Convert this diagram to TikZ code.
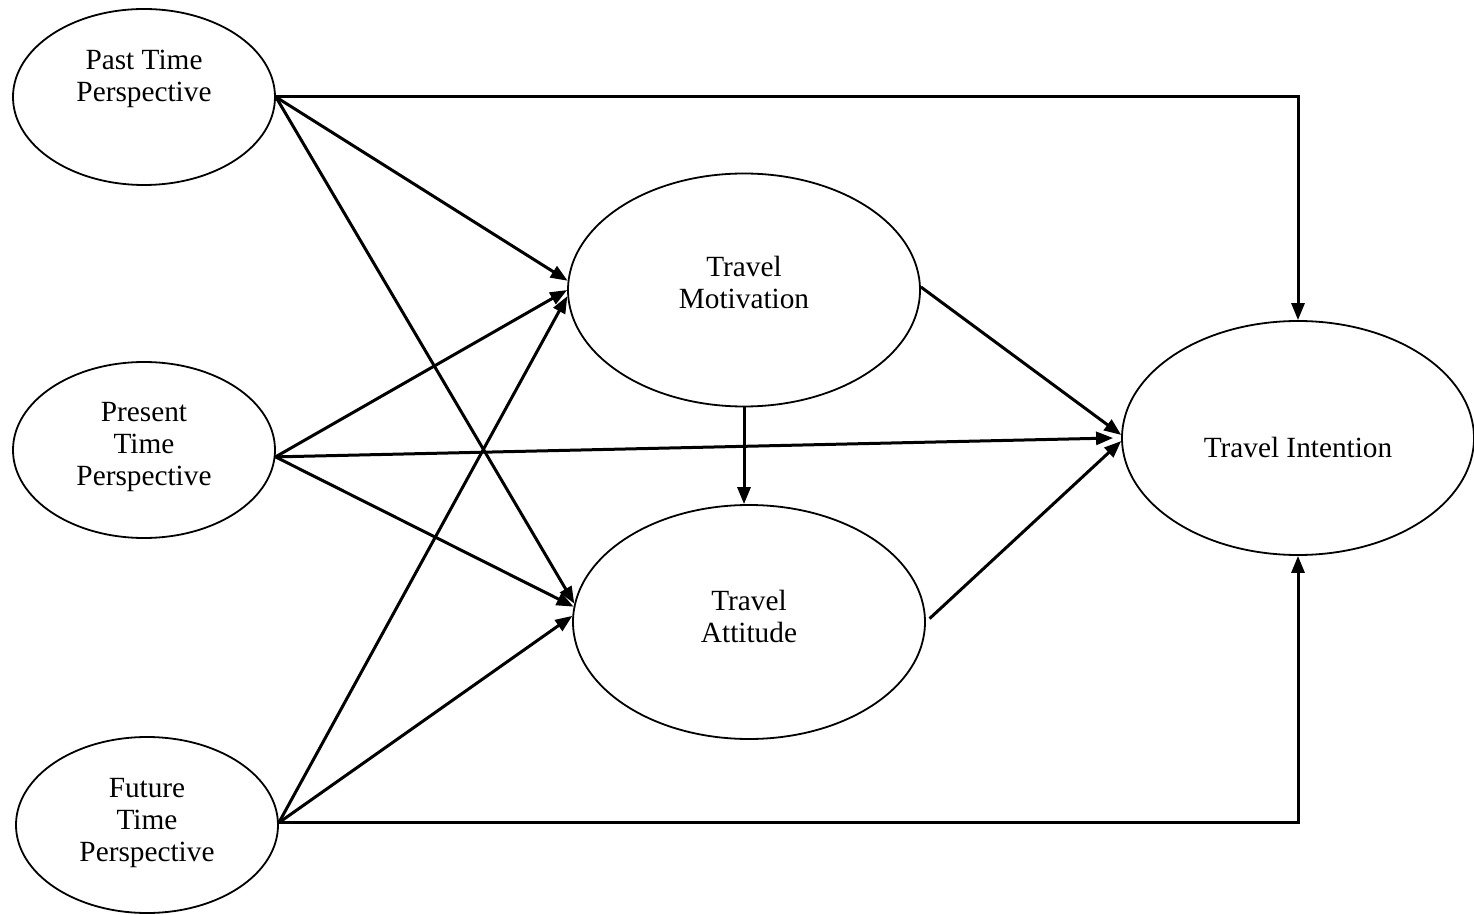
\documentclass[tikz,border=0pt]{standalone}
\usepackage{fontspec}
\setmainfont{Liberation Serif}
\usetikzlibrary{shapes.geometric,arrows.meta}
\begin{document}
\begin{tikzpicture}[x=1pt,y=1pt,
  latent/.style={ellipse, draw, line width=1.8pt, inner sep=0pt},
  small/.style={latent, minimum width=262pt, minimum height=176pt},
  big/.style={latent, minimum width=352pt, minimum height=233pt},
  txt/.style={align=center, font=\fontsize{29.3}{32}\selectfont},
  conn/.style={line width=3pt, -{Triangle[length=17pt,width=13pt]}, line join=miter}
]
\useasboundingbox (0,0) rectangle (1474,914);
\node[small, label={[txt, yshift=18]center:Past Time\\Perspective}] (past) at (144,817) {};
\node[small, label={[txt, yshift=3]center:Present\\Time\\Perspective}] (pres) at (144,464) {};
\node[small, label={[txt, yshift=2]center:Future\\Time\\Perspective}] (fut) at (147,89) {};
\node[big, label={[txt, yshift=8]center:Travel\\Motivation}] (mot) at (744,624) {};
\node[big, minimum height=234pt, label={[txt, yshift=6]center:Travel\\Attitude}] (att) at (749,292) {};
\node[big, minimum height=234pt, label={[txt, yshift=-9]center:Travel Intention}] (int) at (1298,476) {};

% past time perspective
\draw[conn] (past.east) -| (int.north);
\draw[conn] (past.east) -- (mot.177.7);
\draw[conn] (past.east) -- (att.174.4);
% present time perspective
\draw[conn] (pres.-3) -- (mot.180.6);
\draw[conn] (pres.-3) -- ([xshift=-8pt]int.180.9);
\draw[conn] (pres.-3) -- (att.175.8);
% future time perspective
\draw[conn] (fut.1) -- (mot.182.6);
\draw[conn] (fut.1) -- (att.178.7);
\draw[conn] (fut.1) -| (int.south);
% mediators
\draw[conn] (mot.south) -- (mot.south |- att.north);
\draw[conn] ([yshift=3pt]mot.east) -- (int.179.7);
\draw[conn, shorten <=5pt] (att.east) -- (int.181.6);
\end{tikzpicture}
\end{document}
